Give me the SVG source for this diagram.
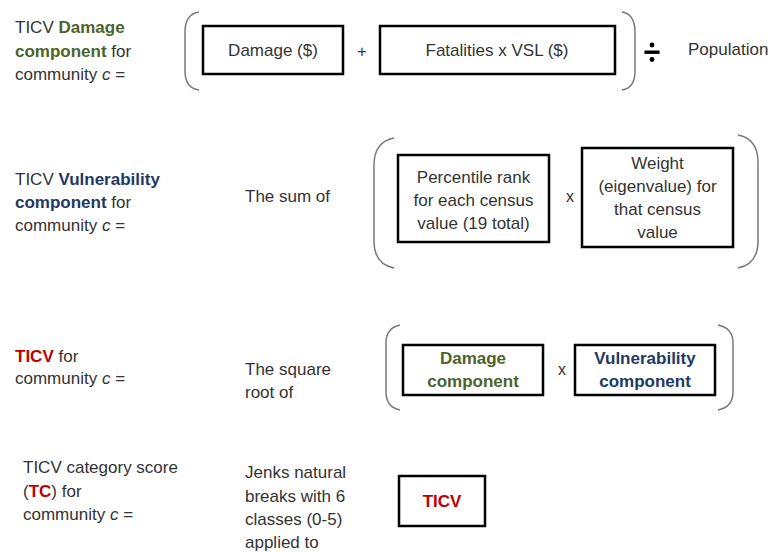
<svg xmlns="http://www.w3.org/2000/svg" width="778" height="552" viewBox="0 0 778 552">
<style>
text{font-family:"Liberation Sans",Arial,sans-serif;font-size:17px;fill:#333}
.c{text-anchor:middle}
.g{fill:#4f6228;font-weight:bold}
.v{fill:#1f3864;font-weight:bold}
.r{fill:#c00000;font-weight:bold}
.op{font-size:16px}
.box{fill:#fff;stroke:#000;stroke-width:2.5}
.par{fill:none;stroke:#7a7a7a;stroke-width:1.5}
</style>
<rect width="778" height="552" fill="#fff"/>

<g id="row1-label">
<text x="15" y="33">TICV <tspan class="g">Damage</tspan></text>
<text x="15" y="56.5"><tspan class="g">component</tspan> for</text>
<text x="15" y="80">community <tspan font-style="italic">c</tspan> =</text>
</g>
<g id="row1-brackets">
<path class="par" d="M199,12 Q185,14 185,32 L185,71 Q185,88 199,90"/>
<path class="par" d="M622,12 Q635,14 635,32 L635,71 Q635,88 622,90"/>
</g>
<g id="damage-box">
<rect class="box" x="203" y="26" width="140" height="48"/>
<text class="c" x="273" y="56">Damage ($)</text>
</g>
<g id="plus"><text class="c op" x="362" y="57">+</text></g>
<g id="fatalities-box">
<rect class="box" x="380" y="26" width="235" height="48"/>
<text class="c" x="497" y="56">Fatalities x VSL ($)</text>
</g>
<g id="divide">
<rect x="644.5" y="50.5" width="15" height="3.4" fill="#000"/>
<circle cx="652" cy="45" r="2.4" fill="#000"/>
<circle cx="652" cy="59.5" r="2.4" fill="#000"/>
</g>
<g id="population"><text x="688" y="55">Population</text></g>

<g id="row2-label">
<text x="15" y="185">TICV <tspan class="v">Vulnerability</tspan></text>
<text x="15" y="208"><tspan class="v">component</tspan> for</text>
<text x="15" y="231">community <tspan font-style="italic">c</tspan> =</text>
</g>
<g id="sum-of"><text x="245" y="202">The sum of</text></g>
<g id="row2-brackets">
<path class="par" d="M394,138 Q374,142 374,165 L374,241 Q374,264 394,268"/>
<path class="par" d="M738,135 Q758,139 758,162 L758,241 Q758,264 738,268"/>
</g>
<g id="percentile-box">
<rect class="box" x="398" y="155" width="151" height="87"/>
<text class="c" x="473.5" y="183">Percentile rank</text>
<text class="c" x="473.5" y="206">for each census</text>
<text class="c" x="473.5" y="229">value (19 total)</text>
</g>
<g id="times1"><text class="c op" x="570" y="202">x</text></g>
<g id="weight-box">
<rect class="box" x="582" y="148" width="151" height="99"/>
<text class="c" x="657.5" y="169">Weight</text>
<text class="c" x="657.5" y="192">(eigenvalue) for</text>
<text class="c" x="657.5" y="215">that census</text>
<text class="c" x="657.5" y="238">value</text>
</g>

<g id="row3-label">
<text x="15" y="362"><tspan class="r">TICV</tspan> for</text>
<text x="15" y="384">community <tspan font-style="italic">c</tspan> =</text>
</g>
<g id="square-root"><text x="245" y="375">The square</text><text x="245" y="398">root of</text></g>
<g id="row3-brackets">
<path class="par" d="M400,325 Q386,328 386,343 L386,392 Q386,407 400,410"/>
<path class="par" d="M718,325 Q733,328 733,343 L733,392 Q733,407 718,410"/>
</g>
<g id="damage-component-box">
<rect class="box" x="403" y="345" width="140" height="50"/>
<text class="c g" x="473" y="364">Damage</text>
<text class="c g" x="473" y="387">component</text>
</g>
<g id="times2"><text class="c op" x="562" y="375">x</text></g>
<g id="vulnerability-component-box">
<rect class="box" x="575" y="345" width="140" height="50"/>
<text class="c v" x="645" y="364">Vulnerability</text>
<text class="c v" x="645" y="387">component</text>
</g>

<g id="row4-label">
<text x="23" y="473">TICV category score</text>
<text x="23" y="497">(<tspan class="r">TC</tspan>) for</text>
<text x="23" y="520">community <tspan font-style="italic">c</tspan> =</text>
</g>
<g id="jenks">
<text x="245" y="478">Jenks natural</text>
<text x="245" y="502">breaks with 6</text>
<text x="245" y="525">classes (0-5)</text>
<text x="245" y="548">applied to</text>
</g>
<g id="ticv-box">
<rect class="box" x="399" y="476" width="86" height="50"/>
<text class="c r" x="442" y="507">TICV</text>
</g>
<g id="connectors"/>
</svg>
